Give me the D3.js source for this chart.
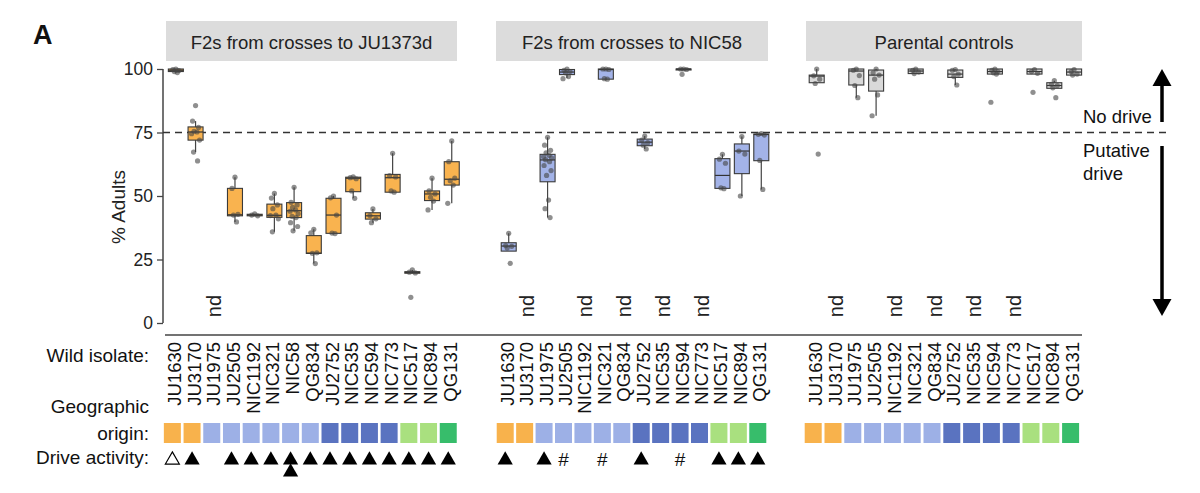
<!DOCTYPE html>
<html><head><meta charset="utf-8">
<script src="https://cdn.jsdelivr.net/npm/d3@7"></script>
<style>body{margin:0;background:#fff}svg{display:block}text{font-family:"Liberation Sans",Arial,sans-serif}</style>
</head><body>
<svg id="c" width="1200" height="493"></svg>
<script>
// ---------------- DATA ----------------
const isolatesA = ["JU1630","JU3170","JU1975","JU2505","NIC1192","NIC321","NIC58","QG834","JU2752","NIC535","NIC594","NIC773","NIC517","NIC894","QG131"];
const isolatesBC = ["JU1630","JU3170","JU1975","JU2505","NIC1192","NIC321","QG834","JU2752","NIC535","NIC594","NIC773","NIC517","NIC894","QG131"];
const panelTitles = ["F2s from crosses to JU1373d","F2s from crosses to NIC58","Parental controls"];
const yTicks = [0,25,50,75,100];
const thresholdLine = 75;
// box stats: [lowWhisker, q1, median, q3, highWhisker]; null = not determined
const statsA = [[98.5,99,99.5,100,100],[67.3,72.0,75.2,77.2,79.5],null,[39.8,42.2,42.6,53.0,57.4],[42.2,42.2,42.5,42.8,42.8],[35.9,41.6,42.4,46.8,51.0],[36.3,41.5,44.2,47.4,53.4],[23.4,27.4,27.5,34.4,36.9],[35.3,35.3,42.5,49.1,50.0],[49.1,51.7,57.0,57.4,57.5],[39.5,40.9,42.2,43.4,44.9],[51.5,51.5,57.2,58.5,66.8],[19.6,19.6,19.9,20.2,20.9],[44.5,48.2,50.8,52.0,57.0],[47.1,54.3,56.6,63.5,71.7]];
const pointsA = [[100,99.8,99.4,99,98.6],[85.6,79.5,77,75.5,75.2,74.5,72,67.3,63.8],[],[57.4,53,42.8,42.5,39.8],[43,42.5,42.2],[51,49.2,46.5,45,42.5,42.3,41,35.9],[53.4,47.5,46.5,45.5,44.5,44,43,42,41.5,39.5,38,36.3],[36.9,35.5,27.6,27.4,23.4],[50,49.3,42.5,35.4,35.2],[57.5,57.2,56.8,52,49.1],[44.9,42.3,41,39.5],[66.8,58,57.5,52,51.5],[20.9,20,19.7,10.1],[57,52,50.8,49.5,48,44.5],[71.7,63.5,57,56,54.3,47.1]];
const statsB = [[28.3,28.3,30.3,31.6,35.3],null,[41.5,55.6,64.2,66.4,73.1],[96.5,97.8,98.8,99.8,100],null,[96,96,99.8,100,100],null,[68.5,69.8,71.2,72.4,73.6],null,[99.8,99.8,100,100,100],null,[53,53,58.1,64.7,66.4],[50,58.8,67.7,70.5,73.4],[52.6,63.9,74.2,74.4,74.6]];
const pointsB = [[35.3,30.5,30.2,29.5,23.5],[],[73.1,70,68,67,66,65.5,65,64.3,63.5,62,60,58.1,48.4,45,41.5],[100,99.5,99,98.5,97,96.2],[],[100,100,99.8,96.2,96],[],[73.6,72,71,70,68.5],[],[100,100,99.8,97.9],[],[66.4,64.5,62.9,53.2,52.9],[73.4,67.7,66.5,50],[74.6,74.3,74,64,52.6]];
const statsC = [[94.6,94.6,97.2,97.6,100],null,[88.7,93.7,99.2,100,100],[81.6,91.3,97.6,99.6,100],null,[98.2,98.2,99.2,100,100],null,[93.7,96.7,98.0,99.6,99.8],null,[98,98,99,100,100],null,[98,98,99,100,100],[92.4,92.4,93.5,94.6,95.4],[97.6,97.6,98.8,100,100]];
const pointsC = [[100,97.3,96,94.3,66.5],[],[100,99.5,97.4,93.5,88.7],[100,98.5,97.6,96,89.8,81.6],[],[100,99.5,98.8,98.2],[],[99.8,99.5,98,97,93.7],[],[100,99.5,99,98.5,98,86.9],[],[99.8,99,98.3,90.8],[95.4,94,93.5,92.6,88.7],[99.8,99,98,97.6]];
const originA = ["or","or","lb","lb","lb","lb","lb","lb","db","db","db","db","lg","lg","g"];
const originBC = ["or","or","lb","lb","lb","lb","lb","db","db","db","db","lg","lg","g"];
const driveA = ["open","fill",null,"fill","fill","fill","double","fill","fill","fill","fill","fill","fill","fill","fill"];
const driveB = ["fill",null,"fill","hash",null,"hash",null,"fill",null,"hash",null,"fill","fill","fill"];
const driveC = isolatesBC.map(()=>null);

// ---------------- STYLE / LAYOUT ----------------
const svg = d3.select("#c");
const FONT = '"Liberation Sans",Arial,sans-serif';
const y = d3.scaleLinear().domain([0,100]).range([323,69]);
const originColor = d3.scaleOrdinal().domain(["or","lb","db","lg","g"]).range(["#F8B24C","#9DB0E6","#5A73C0","#A9E07F","#37BD6B"]);
const panels = [
  {names:isolatesA, stats:statsA, pts:pointsA, origin:originA, drive:driveA, range:[166,461.6], head:[166,457], fill:"#F9B34F"},
  {names:isolatesBC, stats:statsB, pts:pointsB, origin:originBC, drive:driveB, range:[499,771], head:[496,768], fill:"#A3B3E8"},
  {names:isolatesBC, stats:statsC, pts:pointsC, origin:originBC, drive:driveC, range:[806.8,1084], head:[806,1082], fill:"#D9D9D9"}
];
const JIT = [0,-3,3,-1.5,1.5,-4,4,-2,2,-3.5,3.5,-1,1,-2.5,2.5];
const BW = 15, LOW = -3.5;

// Title letter
svg.append("text").attr("x",33).attr("y",44).attr("font-size",27).attr("font-weight","bold").attr("fill","#111").text("A");

// Y axis
const yAxis = d3.axisLeft(y).tickValues(yTicks).tickSize(6).tickPadding(4);
const gy = svg.append("g").attr("transform","translate(163,0)").call(yAxis);
gy.select(".domain").attr("stroke","#444").attr("stroke-width",1.5).attr("d","M0,"+y(100)+"V"+y(0));
gy.selectAll(".tick line").attr("stroke","#444").attr("stroke-width",1.3);
gy.selectAll(".tick text").attr("font-size",17.5).attr("font-family",FONT).attr("fill","#222");
svg.append("text").attr("transform","translate(125,207) rotate(-90)").attr("text-anchor","middle").attr("font-size",19).attr("fill","#222").text("% Adults");

// bottom axis line
svg.append("line").attr("x1",165).attr("x2",1082).attr("y1",335).attr("y2",335).attr("stroke","#444").attr("stroke-width",1.5);

// dashed threshold
svg.append("line").attr("x1",163).attr("x2",1170).attr("y1",y(thresholdLine)).attr("y2",y(thresholdLine)).attr("stroke","#333").attr("stroke-width",1.3).attr("stroke-dasharray","7,5");

panels.forEach((p,pi)=>{
  const x = d3.scalePoint().domain(d3.range(p.names.length)).range(p.range).padding(0.5);
  // header
  svg.append("rect").attr("x",p.head[0]).attr("y",21).attr("width",p.head[1]-p.head[0]).attr("height",40).attr("fill","#DCDCDC");
  svg.append("text").attr("x",(p.head[0]+p.head[1])/2).attr("y",49).attr("text-anchor","middle").attr("font-size",18.5).attr("fill","#222").text(panelTitles[pi]);
  const g = svg.append("g");
  p.stats.forEach((s,i)=>{
    const cx = x(i);
    if(!s){
      g.append("text").attr("transform",`translate(${cx+6},${306}) rotate(-90)`).attr("text-anchor","middle").attr("font-size",20).attr("fill","#222").text("nd");
      return;
    }
    const [lo,q1,md,q3,hi]=s;
    g.append("line").attr("x1",cx).attr("x2",cx).attr("y1",y(hi)).attr("y2",y(lo)).attr("stroke","#444").attr("stroke-width",1.2);
    g.append("rect").attr("x",cx-BW/2).attr("width",BW).attr("y",y(q3)).attr("height",Math.max(1,y(q1)-y(q3))).attr("fill",p.fill).attr("stroke","#3a3a3a").attr("stroke-width",1.1);
    g.append("line").attr("x1",cx-BW/2).attr("x2",cx+BW/2).attr("y1",y(md)).attr("y2",y(md)).attr("stroke","#333").attr("stroke-width",1.2);
    g.selectAll(null).data(p.pts[i]).enter().append("circle")
      .attr("cx",(d,j)=>cx+JIT[j%JIT.length]).attr("cy",d=>y(d)).attr("r",2.6)
      .attr("fill","#444").attr("fill-opacity",0.6);
  });
  // isolate labels, origin squares, drive activity
  p.names.forEach((n,i)=>{
    const cx = x(i)+LOW+2;
    svg.append("text").attr("transform",`translate(${cx+6.5},342) rotate(-90)`).attr("text-anchor","end").attr("font-size",18.5).attr("fill","#111").text(n);
    svg.append("rect").attr("x",x(i)+LOW-8.5).attr("y",423).attr("width",17).attr("height",20).attr("fill",originColor(p.origin[i]));
    const dv = p.drive[i];
    const tri = d3.symbol(d3.symbolTriangle,100)();
    if(dv==="fill"||dv==="double"){
      svg.append("path").attr("d",tri).attr("transform",`translate(${x(i)+LOW},460)`).attr("fill","#000");
      if(dv==="double") svg.append("path").attr("d",tri).attr("transform",`translate(${x(i)+LOW},472)`).attr("fill","#000");
    } else if(dv==="open"){
      svg.append("path").attr("d",d3.symbol(d3.symbolTriangle,85)()).attr("transform",`translate(${x(i)+LOW},460)`).attr("fill","#fff").attr("stroke","#000").attr("stroke-width",1.2);
    } else if(dv==="hash"){
      svg.append("text").attr("x",x(i)+LOW).attr("y",466).attr("text-anchor","middle").attr("font-size",19).attr("fill","#111").text("#");
    }
  });
});

// row labels
const rowLab = [["Wild isolate:",362],["Geographic",413],["origin:",440],["Drive activity:",464]];
rowLab.forEach(r=>svg.append("text").attr("x",149).attr("y",r[1]).attr("text-anchor","end").attr("font-size",19).attr("fill","#111").text(r[0]));

// right annotations
svg.append("text").attr("x",1083).attr("y",123).attr("font-size",18.5).attr("fill","#111").text("No drive");
svg.append("text").attr("x",1083).attr("y",157).attr("font-size",18.5).attr("fill","#111").text("Putative");
svg.append("text").attr("x",1083).attr("y",180).attr("font-size",18.5).attr("fill","#111").text("drive");
const ax = 1162;
svg.append("line").attr("x1",ax).attr("x2",ax).attr("y1",84).attr("y2",122).attr("stroke","#000").attr("stroke-width",3.5);
svg.append("path").attr("d",`M${ax},69L${ax-9.5},86L${ax+9.5},86Z`).attr("fill","#000");
svg.append("line").attr("x1",ax).attr("x2",ax).attr("y1",146).attr("y2",302).attr("stroke","#000").attr("stroke-width",3.5);
svg.append("path").attr("d",`M${ax},316L${ax-9.5},299L${ax+9.5},299Z`).attr("fill","#000");
</script>
</body></html>
